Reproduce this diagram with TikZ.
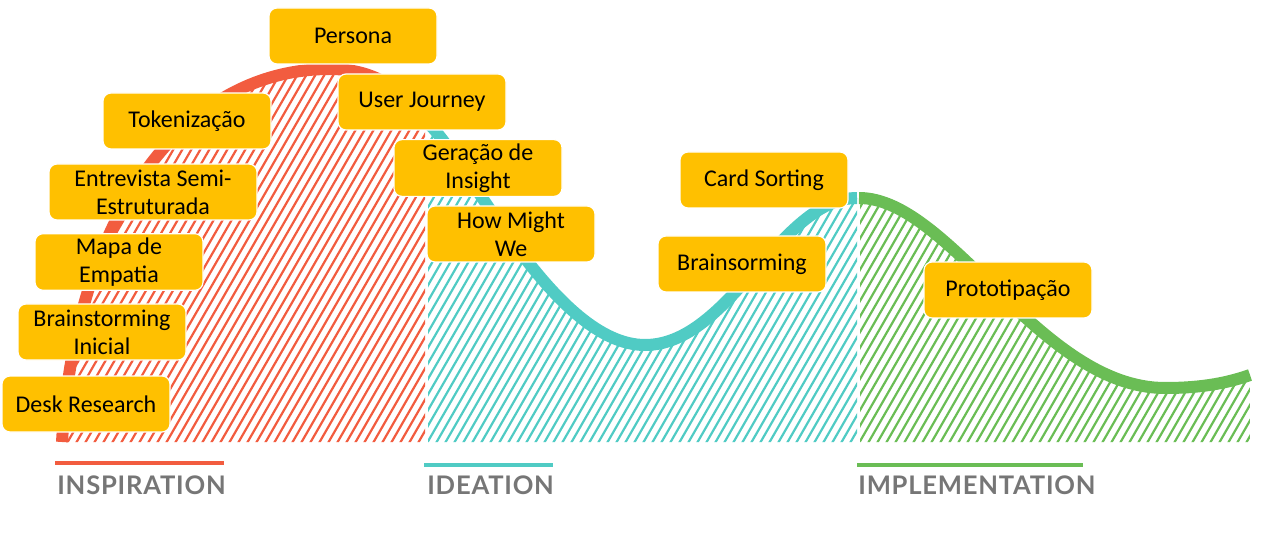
\documentclass[tikz,border=0pt]{standalone}
\usepackage{fontspec}
\setmainfont{Carlito}
\newfontfamily\phasefont[LetterSpace=3]{Lato}
\usetikzlibrary{positioning}
\definecolor{coral}{HTML}{F25C3F}
\definecolor{aqua} {HTML}{50CBC4}
\definecolor{leaf} {HTML}{6ABD55}
\definecolor{gold} {HTML}{FFC000}
\definecolor{slate}{HTML}{767676}
\tikzset{
  % --- nodes
  tool/.style  = {rounded corners=4pt, draw=white, line width=0.6pt, fill=gold,
                  align=center, minimum width=84pt, minimum height=28pt,
                  inner sep=2pt, text=black, font=\fontsize{12}{14}\selectfont},
  phase/.style = {anchor=base west, inner sep=0pt, text=slate,
                  font=\phasefont\bfseries\fontsize{12.8}{15}\selectfont},
  % --- strokes
  wave/.style  = {line width=6pt},
  hatch/.style = {line width=1.1pt},
  bar/.style   = {line width=1.6pt},
}
\begin{document}
\begin{tikzpicture}[x=0.5pt,y=-0.5pt]
  \useasboundingbox (0,0) rectangle (1280,545);

  % the three stretches of the wave
  \newcommand{\redpart}{(62,442) .. controls (75,220) and (180,69) .. (330,69)
                        .. controls (385,69) and (410,100) .. (430,125)}
  \newcommand{\aquapart}{(430,125) .. controls (470,165) and (555,345) .. (645,345)
                         .. controls (730,345) and (780,198) .. (857,198)}
  \newcommand{\leafpart}{(857,198) .. controls (950,198) and (1040,388) .. (1165,388)
                         .. controls (1205,388) and (1230,382) .. (1250,375)}
  \newcommand{\hatchin}[3]{%
    \begin{scope}
      \clip (#1,0) rectangle (#2,442);
      \clip \redpart -- \aquapart -- \leafpart -- (1250,442) -- (62,442) -- cycle;
      \foreach \k in {-40,...,140}
        \draw[hatch, #3] (\k*9,450) -- ++(300,-520);
    \end{scope}}

  % hatched areas
  \hatchin{0}{425}{coral}
  \hatchin{428}{857}{aqua}
  \hatchin{860}{1250}{leaf}

  % wave strokes
  \draw[wave, coral] \redpart;
  \draw[wave, aqua]  \aquapart;
  \draw[wave, leaf]  (859,198) .. controls (950,198) and (1040,388) .. (1165,388)
                     .. controls (1205,388) and (1230,382) .. (1250,375);

  % phase labels
  \coordinate (insp) at (57,494);
  \coordinate (idea) at (427,494);
  \coordinate (impl) at (858,494);
  \draw[bar, coral] (55,463) -- (224,463);
  \draw[bar, aqua]  (424,465) -- (553,465);
  \draw[bar, leaf]  (857,465) -- (1083,465);
  \node[phase] (inspl) at (insp) {INSPIRATION};
  \node[phase] (ideal) at (idea) {IDEATION};
  \node[phase] (impll) at (impl) {IMPLEMENTATION};

  % methods
  \node[tool] (persona)  at (353,36)   {Persona};
  \node[tool] (token)    at (187,121)  {Tokenização};
  \node[tool] (journey)  at (422,102)  {User Journey};
  \node[tool, minimum width=104pt] (interview) at (153,192) {Entrevista Semi-\\Estruturada};
  \node[tool] (insight)  at (478,168)  {Geração de\\Insight};
  \node[tool] (hmw)      at (511,234)  {How Might\\We};
  \node[tool] (empathy)  at (119,262)  {Mapa de\\Empatia};
  \node[tool] (brainini) at (102,332)  {Brainstorming\\Inicial};
  \node[tool] (desk)     at (86,404)   {Desk Research};
  \node[tool] (cards)    at (764,180)  {Card Sorting};
  \node[tool] (brain)    at (742,264)  {Brainsorming};
  \node[tool] (proto)    at (1008,290) {Prototipação};
\end{tikzpicture}
\end{document}
